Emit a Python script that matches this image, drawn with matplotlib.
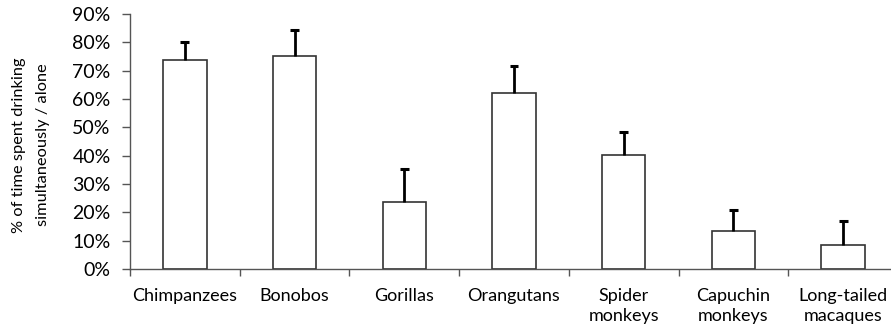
import matplotlib
matplotlib.use('Agg')
import matplotlib.pyplot as plt
from matplotlib.ticker import PercentFormatter

# Data
species = ['Chimpanzees', 'Bonobos', 'Gorillas', 'Orangutans',
           'Spider\nmonkeys', 'Capuchin\nmonkeys', 'Long-tailed\nmacaques']
means = [73.8, 75.1, 23.8, 62.0, 40.2, 13.3, 8.6]
upper_err = [6.4, 9.3, 11.5, 9.7, 8.2, 7.4, 8.2]
y_ticks = [0, 10, 20, 30, 40, 50, 60, 70, 80, 90]

plt.rcParams['font.family'] = ['Lato', 'DejaVu Sans']

fig = plt.figure(figsize=(8.91, 3.30), dpi=100)
ax = fig.add_axes([130 / 891, 61 / 330, 768 / 891, 255 / 330])

x = list(range(len(species)))
ax.bar(x, means, width=0.395, color='white', edgecolor='#333333', linewidth=1.2, zorder=2)

# upper-only error bars
tops = [m + e for m, e in zip(means, upper_err)]
ax.vlines(x, means, tops, color='black', linewidth=2, zorder=3)
ax.hlines(tops, [i - 0.04 for i in x], [i + 0.04 for i in x], color='black', linewidth=2.2, zorder=3)

ax.set_xlim(-0.5, len(species) - 0.5)
ax.set_ylim(0, 90)
ax.set_yticks(y_ticks)
ax.yaxis.set_major_formatter(PercentFormatter(decimals=0))

# category boundaries as ticks, labels at centres
ax.set_xticks([i - 0.5 for i in range(len(species) + 1)])
ax.set_xticklabels([])
ax.set_xticks(x, minor=True)
ax.set_xticklabels(species, minor=True, fontsize=13, linespacing=1.3)
ax.tick_params(axis='x', which='minor', length=0, pad=14)
ax.tick_params(axis='x', which='major', length=5, width=1, color='#555555', direction='out')
ax.tick_params(axis='y', length=6, width=1, color='#555555', labelsize=14, pad=8)

for side in ['top', 'right']:
    ax.spines[side].set_visible(False)
for side in ['left', 'bottom']:
    ax.spines[side].set_color('#555555')
    ax.spines[side].set_linewidth(1)

fig.text(31 / 891, (330 - 145) / 330, '% of time spent drinking\nsimultaneously / alone',
         rotation=90, ha='center', va='center', fontsize=11.8, multialignment='center',
         linespacing=1.85)

plt.savefig('out.png', dpi=100)
